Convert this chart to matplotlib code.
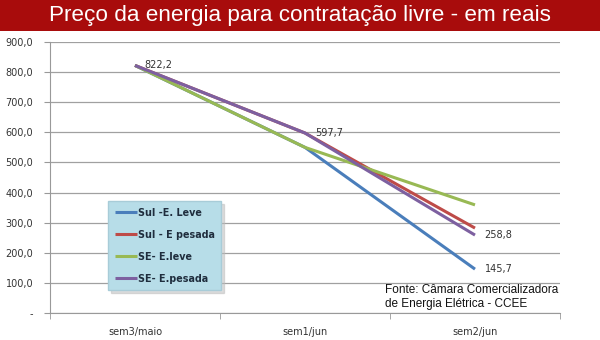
import numpy as np
import matplotlib.pyplot as plt
from matplotlib.ticker import FuncFormatter, FixedLocator

categories = ["sem3/maio", "sem1/jun", "sem2/jun"]
series_names = ["Sul -E. Leve", "Sul - E pesada", "SE- E.leve", "SE- E.pesada"]
sul_leve = [822.2, 550.0, 145.7]
sul_pesada = [822.2, 597.7, 282.0]
se_leve = [822.2, 550.0, 359.0]
se_pesada = [822.2, 597.7, 258.8]
values = [sul_leve, sul_pesada, se_leve, se_pesada]
colors = ["#4A7EBB", "#BE4B48", "#98B954", "#7D60A0"]
point_labels = [(0, 822.2), (1, 597.7), (2, 258.8), (2, 145.7)]

fig = plt.figure(figsize=(6, 3.4), dpi=100)
fig.patch.set_facecolor("white")

# title bar
fig.patches.append(plt.Rectangle((0, 1 - 31 / 340), 1, 31 / 340, transform=fig.transFigure,
                                 facecolor="#A80C0C", edgecolor="none", zorder=0))
fig.text(0.5, 1 - 16 / 340, "Preço da energia para contratação livre - em reais",
         ha="center", va="center", color="white", fontsize=16.2, family="Liberation Sans")

ax = fig.add_axes([50 / 600, 1 - 313 / 340, 510 / 600, 271 / 340])
x = np.arange(len(categories))
for name, vals, c in zip(series_names, values, colors):
    ax.plot(x, vals, color=c, lw=2.2, label=name, solid_capstyle="butt")

for xi, v in point_labels:
    ax.annotate(f"{v:.1f}".replace(".", ","), (xi, v), xytext=(7, 0), textcoords="offset points",
                ha="left", va="center", fontsize=7, color="#333333")

ax.set_xlim(-0.5, 2.5)
ax.set_ylim(0, 900)
ax.set_yticks(np.arange(0, 901, 100))
ax.yaxis.set_major_formatter(FuncFormatter(lambda v, p: "-" if v == 0 else f"{v:.1f}".replace(".", ",")))
ax.set_xticks(x)
ax.set_xticklabels(categories)
ax.xaxis.set_minor_locator(FixedLocator([-0.5, 0.5, 1.5, 2.5]))
ax.tick_params(axis="x", which="major", length=0, labelsize=7, colors="#333333", pad=10)
ax.tick_params(axis="x", which="minor", length=4, color="#999999")
ax.tick_params(axis="y", length=4, color="#999999", labelsize=7, labelcolor="#333333", pad=8)
ax.grid(axis="y", color="#A0A0A0", lw=0.9)
ax.set_axisbelow(True)
for s in ["top", "right"]:
    ax.spines[s].set_visible(False)
for s in ["left", "bottom"]:
    ax.spines[s].set_color("#999999")

leg = ax.legend(loc="upper left", bbox_to_anchor=(108 / 600, 1 - 201 / 340), bbox_transform=fig.transFigure,
                frameon=True, fancybox=False, shadow={"color": "#BBBBBB"}, borderpad=0.7, labelspacing=1.25,
                handlelength=2.3, handletextpad=0.1, borderaxespad=0,
                prop={"weight": "bold", "size": 6.9})
leg.get_frame().set_facecolor("#B7DDE8")
leg.get_frame().set_edgecolor("#A8CCD8")
for t in leg.get_texts():
    t.set_color("#1F2D3D")

fig.text(385 / 600, 1 - 297 / 340, "Fonte: Câmara Comercializadora\nde Energia Elétrica - CCEE",
         ha="left", va="center", fontsize=8.5, color="#111111", linespacing=1.15, family="Liberation Sans")

fig.savefig("out.png", dpi=100)
